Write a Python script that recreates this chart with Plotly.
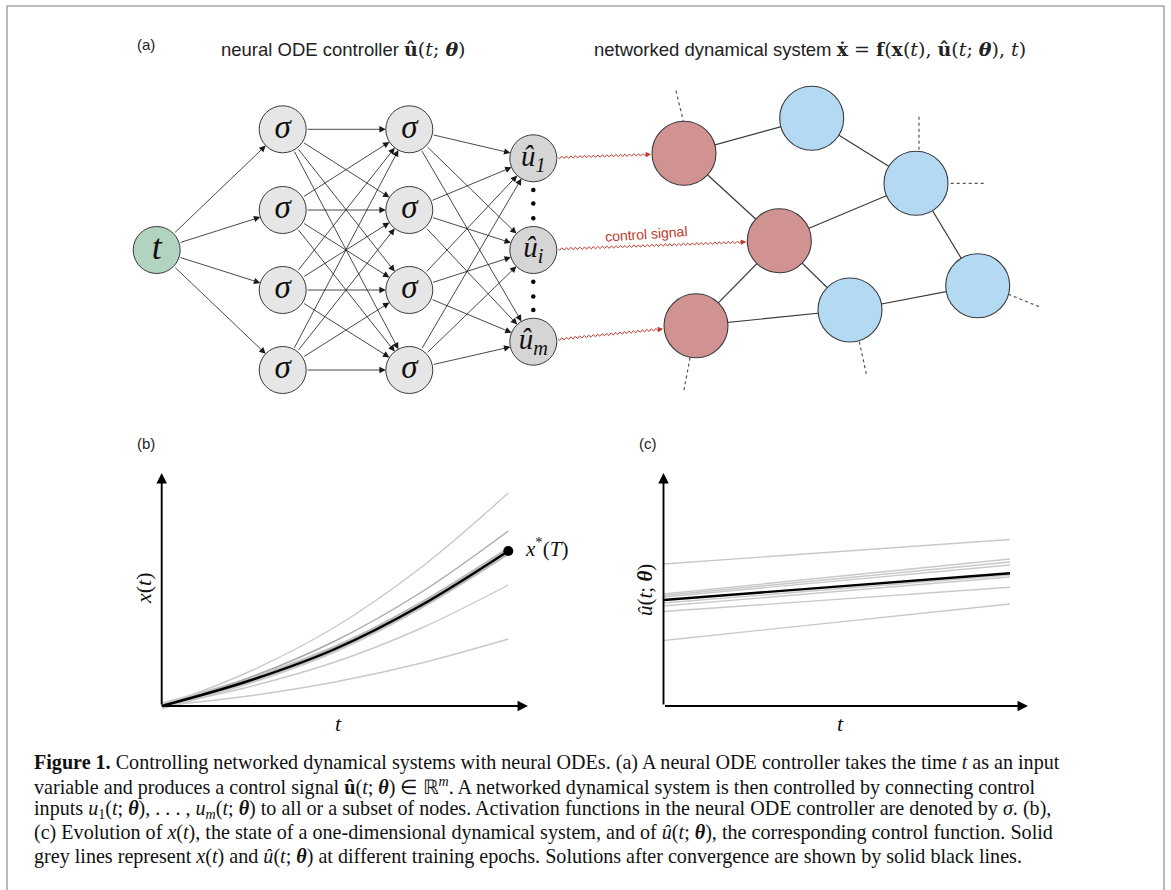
import numpy as np
import plotly.graph_objects as go

W, H = 1171, 890

# ---------------- data ----------------
# panel (b): x(t) over training epochs (grey) and after convergence (black)
t_b = [0.0, 0.25, 0.5, 0.75, 1.0]
x_epoch_a = [0, 34, 79, 139, 213]
x_epoch_b = [0, 28, 65, 114, 175]
x_epoch_c = [0, 26, 59, 104, 158]
x_epoch_d = [0, 24, 56, 99, 152]
x_epoch_e = [0, 19, 44, 78, 121]
x_epoch_f = [0, 10, 24, 43, 67]
x_final = [0, 25, 57, 101, 155]

# panel (c): control u(t; theta) over training epochs (grey) and after convergence (black)
t_c = [0.0, 1.0]
u_epoch_a = [142, 166.5]
u_epoch_b = [112, 147]
u_epoch_c = [110.5, 144]
u_epoch_d = [109, 141]
u_epoch_e = [103, 131]
u_epoch_f = [100, 129]
u_epoch_g = [94.5, 118.7]
u_epoch_h = [65.5, 102]
u_final = [106, 132.7]

# panel (a): diagram labels and structure
input_label = "t"
hidden_label = "σ"
output_labels = ["û<sub>1</sub>", "û<sub>i</sub>", "û<sub>m</sub>"]
net_edges = [(0, 1), (0, 3), (1, 2), (2, 3), (2, 4), (3, 5), (3, 6), (6, 5), (5, 4)]
net_controlled = [0, 3, 6]   # nodes receiving control signals
control_map = [(0, 0), (1, 3), (2, 6)]  # (output index, network node)

caption_lines = [
    "<b>Figure 1.</b> Controlling networked dynamical systems with neural ODEs. (a) A neural ODE controller takes the time <i>t</i> as an input",
    "variable and produces a control signal <b>û</b>(<i>t</i>; <b><i>θ</i></b>) ∈ ℝ<sup><i>m</i></sup>. A networked dynamical system is then controlled by connecting control",
    "inputs <i>u</i><sub>1</sub>(<i>t</i>; <b><i>θ</i></b>), . . . , <i>u<sub>m</sub></i>(<i>t</i>; <b><i>θ</i></b>) to all or a subset of nodes. Activation functions in the neural ODE controller are denoted by <i>σ</i>. (b),",
    "(c) Evolution of <i>x</i>(<i>t</i>), the state of a one-dimensional dynamical system, and of <i>û</i>(<i>t</i>; <b><i>θ</i></b>), the corresponding control function. Solid",
    "grey lines represent <i>x</i>(<i>t</i>) and <i>û</i>(<i>t</i>; <b><i>θ</i></b>) at different training epochs. Solutions after convergence are shown by solid black lines.",
]

# ---------------- layout constants (pixels) ----------------
SERIF = "Liberation Serif"
MATHF = "DejaVu Serif"
SANS = "Liberation Sans"
R_NN = 23.5
R_NET = 32
input_pos = [(156.7, 250)]
hidden1_pos = [(282.7, y) for y in (129.3, 210, 290, 370)]
hidden2_pos = [(409.3, y) for y in (129.3, 210, 290, 370)]
output_pos = [(533.3, y) for y in (158.3, 250, 341.7)]
net_pos = [(684, 153.3), (811.7, 118.3), (916, 183.3), (779.3, 240.7),
           (977.7, 285.7), (850, 310), (696, 325.7)]
stubs = [((676, 90.7), (683.3, 121)), ((919, 116.7), (919, 150.7)),
         ((950.7, 183.3), (985, 183.3)), ((1008.3, 294.3), (1040, 307)),
         ((859.3, 341.7), (866.5, 375)), ((690, 357.7), (684, 390))]

fig = go.Figure()
annotations = []
shapes = []

# border
shapes.append(dict(type="rect", xref="x", yref="y", x0=7, x1=1164, y0=6, y1=905,
                   line=dict(color="#a8a8a8", width=1.6), layer="below"))

def seg(p, q, r1, r2):
    p = np.array(p, float); q = np.array(q, float)
    d = q - p; L = np.hypot(*d); u = d / L
    return p + u * r1, q - u * r2

# neural network arrows
layers = [input_pos, hidden1_pos, hidden2_pos, output_pos]
for la, lb in zip(layers[:-1], layers[1:]):
    for p in la:
        for q in lb:
            s, e = seg(p, q, R_NN, R_NN)
            annotations.append(dict(x=e[0], y=e[1], ax=s[0], ay=s[1], xref="x", yref="y",
                                    axref="x", ayref="y", showarrow=True, text="",
                                    arrowhead=2, arrowsize=1.6, arrowwidth=0.8,
                                    arrowcolor="#1a1a1a"))

# dots between outputs
for y in (190, 203.5, 218.3, 281.7, 296.5, 310):
    fig.add_trace(go.Scatter(x=[533.3], y=[y], mode="markers", xaxis="x", yaxis="y",
                             marker=dict(size=4.5, color="black"), hoverinfo="skip"))

def nodes(pos, color, size, labels, fsize):
    fig.add_trace(go.Scatter(
        x=[p[0] for p in pos], y=[p[1] for p in pos], mode="markers+text",
        xaxis="x", yaxis="y", text=labels, textposition="middle center",
        textfont=dict(family=SERIF, size=fsize, color="#111"),
        marker=dict(size=size, color=color, line=dict(color="#3a3a3a", width=1)),
        hoverinfo="skip"))

nodes(input_pos, "#b1d3bf", 2 * R_NN, ["<i>%s</i>" % input_label], 36)
nodes(hidden1_pos, "#e6e6e6", 2 * R_NN, ["<i>%s</i>" % hidden_label] * 4, 33)
nodes(hidden2_pos, "#e6e6e6", 2 * R_NN, ["<i>%s</i>" % hidden_label] * 4, 33)
nodes(output_pos, "#d5d5d5", 2 * R_NN, ["<i>%s</i>" % l for l in output_labels], 29)

# networked system edges
for a, b in net_edges:
    shapes.append(dict(type="line", xref="x", yref="y", x0=net_pos[a][0], y0=net_pos[a][1],
                       x1=net_pos[b][0], y1=net_pos[b][1],
                       line=dict(color="#3a3a3a", width=1.2), layer="below"))
for p, q in stubs:
    shapes.append(dict(type="line", xref="x", yref="y", x0=p[0], y0=p[1], x1=q[0], y1=q[1],
                       line=dict(color="#555", width=1.2, dash="dot"), layer="below"))

net_colors = ["#d09392" if i in net_controlled else "#b3d9f3" for i in range(len(net_pos))]
fig.add_trace(go.Scatter(x=[p[0] for p in net_pos], y=[p[1] for p in net_pos], mode="markers",
                         xaxis="x", yaxis="y",
                         marker=dict(size=2 * R_NET, color=net_colors,
                                     line=dict(color="#3a3a3a", width=1.1)),
                         hoverinfo="skip"))

# wavy control signals
RED = "#c0392b"
for oi, ni in control_map:
    s, e = seg(output_pos[oi], net_pos[ni], R_NN + 1.5, R_NET + 1)
    d = e - s; L = np.hypot(*d); u = d / L; n = np.array([-u[1], u[0]])
    ss = np.linspace(0, L - 5, 600)
    pts = s[None, :] + ss[:, None] * u[None, :] + (1.3 * np.sin(2 * np.pi * ss / 4.5))[:, None] * n[None, :]
    fig.add_trace(go.Scatter(x=pts[:, 0], y=pts[:, 1], mode="lines", xaxis="x", yaxis="y",
                             line=dict(color=RED, width=1), hoverinfo="skip"))
    annotations.append(dict(x=e[0], y=e[1], ax=e[0] - 6 * u[0], ay=e[1] - 6 * u[1],
                            xref="x", yref="y", axref="x", ayref="y", showarrow=True,
                            text="", arrowhead=2, arrowsize=1.2, arrowwidth=0.9,
                            arrowcolor=RED))
annotations.append(dict(x=646, y=234, xref="x", yref="y", text="control signal",
                        showarrow=False, textangle=-4,
                        font=dict(family=SANS, size=14, color=RED)))

# titles of panel (a)
SPAN = "<span style='font-family:%s;font-size:19px'>" % MATHF
MATH_U = SPAN + "<b>û</b>(<i>t</i>; <b><i>θ</i></b>)</span>"
annotations.append(dict(x=146, y=44, xref="x", yref="y", text="(a)", showarrow=False,
                        font=dict(family=SANS, size=15, color="#222")))
annotations.append(dict(x=343, y=49, xref="x", yref="y", showarrow=False,
                        text="neural ODE controller " + MATH_U,
                        font=dict(family=SANS, size=18.5, color="#222")))
annotations.append(dict(x=810, y=49, xref="x", yref="y", showarrow=False,
                        text="networked dynamical system " + SPAN +
                             "<b>ẋ</b> = <b>f</b>(<b>x</b>(<i>t</i>), <b>û</b>(<i>t</i>; <b><i>θ</i></b>), <i>t</i>)</span>",
                        font=dict(family=SANS, size=18.5, color="#222")))

# ---------------- panels (b) and (c) ----------------
PX_B0, PX_B1 = 161.7, 508.3
PX_C0, PX_C1 = 663.5, 1010
PY0, PY_TOP = 706, 473

def xaxis_cfg(px0, px1, tip):
    s = px1 - px0
    lo = -0.02
    return dict(domain=[(px0 + lo * s) / W, (tip + 4) / W], range=[lo, (tip + 4 - px0) / s],
                visible=False, showgrid=False, zeroline=False)

yax = dict(domain=[1 - (PY0 + 4) / H, 1 - (PY_TOP - 4) / H], range=[-4, PY0 - PY_TOP + 4],
           visible=False, showgrid=False, zeroline=False)

GREY_L = "#c9c9c9"
GREY_M = "#a9a9a9"
b_series = [(x_epoch_a, GREY_L), (x_epoch_b, GREY_M), (x_epoch_c, "#b5b5b5"),
            (x_epoch_d, "#b5b5b5"), (x_epoch_e, GREY_L), (x_epoch_f, GREY_L)]
fig.add_trace(go.Scatter(x=t_b, y=x_final, mode="lines", xaxis="x2", yaxis="y2",
                         line=dict(color="rgba(140,140,140,0.45)", width=7, shape="spline"),
                         hoverinfo="skip"))
for ys, c in b_series:
    fig.add_trace(go.Scatter(x=t_b, y=ys, mode="lines", xaxis="x2", yaxis="y2",
                             line=dict(color=c, width=1.4, shape="spline"), hoverinfo="skip"))
fig.add_trace(go.Scatter(x=t_b, y=x_final, mode="lines", xaxis="x2", yaxis="y2",
                         line=dict(color="black", width=2.4, shape="spline"), hoverinfo="skip"))
fig.add_trace(go.Scatter(x=[t_b[-1]], y=[x_final[-1]], mode="markers+text", xaxis="x2", yaxis="y2",
                         marker=dict(size=10, color="black"),
                         text=["  <i>x</i><sup>*</sup>(<i>T</i>)"], textposition="middle right",
                         textfont=dict(family=SERIF, size=21, color="#111"),
                         cliponaxis=False, hoverinfo="skip"))

c_series = [u_epoch_a, u_epoch_b, u_epoch_c, u_epoch_d, u_epoch_e, u_epoch_f, u_epoch_g, u_epoch_h]
for ys in c_series:
    fig.add_trace(go.Scatter(x=t_c, y=ys, mode="lines", xaxis="x3", yaxis="y3",
                             line=dict(color=GREY_L, width=1.4), hoverinfo="skip"))
fig.add_trace(go.Scatter(x=t_c, y=u_final, mode="lines", xaxis="x3", yaxis="y3",
                         line=dict(color="black", width=2.4), hoverinfo="skip"))

# axis arrows
for xa, ya, px0, px1, tip in (("x2", "y2", PX_B0, PX_B1, 528), ("x3", "y3", PX_C0, PX_C1, 1028)):
    s = px1 - px0
    annotations.append(dict(x=(tip - px0) / s, y=0, ax=0, ay=0, xref=xa, yref=ya, axref=xa,
                            ayref=ya, showarrow=True, text="", arrowhead=2, arrowsize=1.1,
                            arrowwidth=1.9, arrowcolor="black"))
    annotations.append(dict(x=0, y=PY0 - PY_TOP, ax=0, ay=0, xref=xa, yref=ya, axref=xa,
                            ayref=ya, showarrow=True, text="", arrowhead=2, arrowsize=1.1,
                            arrowwidth=1.9, arrowcolor="black"))

# panel labels & axis titles
for txt, x, y in (("(b)", 146, 443), ("(c)", 648, 443)):
    annotations.append(dict(x=x, y=y, xref="x", yref="y", text=txt, showarrow=False,
                            font=dict(family=SANS, size=15, color="#222")))
for x in (338, 840):
    annotations.append(dict(x=x, y=723, xref="x", yref="y", text="<i>t</i>", showarrow=False,
                            font=dict(family=SERIF, size=22, color="#111")))
annotations.append(dict(x=143, y=588, xref="x", yref="y", text="<i>x</i>(<i>t</i>)",
                        showarrow=False, textangle=-90,
                        font=dict(family=SERIF, size=22, color="#111")))
annotations.append(dict(x=645, y=590, xref="x", yref="y",
                        text="<i>û</i>(<i>t</i>; <b><i>θ</i></b>)",
                        showarrow=False, textangle=-90,
                        font=dict(family=SERIF, size=21, color="#111")))

# caption
for i, line in enumerate(caption_lines):
    annotations.append(dict(x=32, y=762 + i * 23.5, xref="x", yref="y", text=line,
                            showarrow=False, xanchor="left", yanchor="middle",
                            font=dict(family=SERIF, size=20.1, color="#111")))

hidden = dict(visible=False, showgrid=False, zeroline=False)
fig.update_layout(
    width=W, height=H, margin=dict(l=0, r=0, t=0, b=0),
    paper_bgcolor="white", plot_bgcolor="rgba(0,0,0,0)", showlegend=False,
    xaxis=dict(domain=[0, 1], range=[0, W], **hidden),
    yaxis=dict(domain=[0, 1], range=[H, 0], **hidden),
    xaxis2=dict(anchor="y2", **xaxis_cfg(PX_B0, PX_B1, 528)),
    yaxis2=dict(anchor="x2", **yax),
    xaxis3=dict(anchor="y3", **xaxis_cfg(PX_C0, PX_C1, 1028)),
    yaxis3=dict(anchor="x3", **yax),
    annotations=annotations, shapes=shapes,
)
fig.write_html("out.html")
